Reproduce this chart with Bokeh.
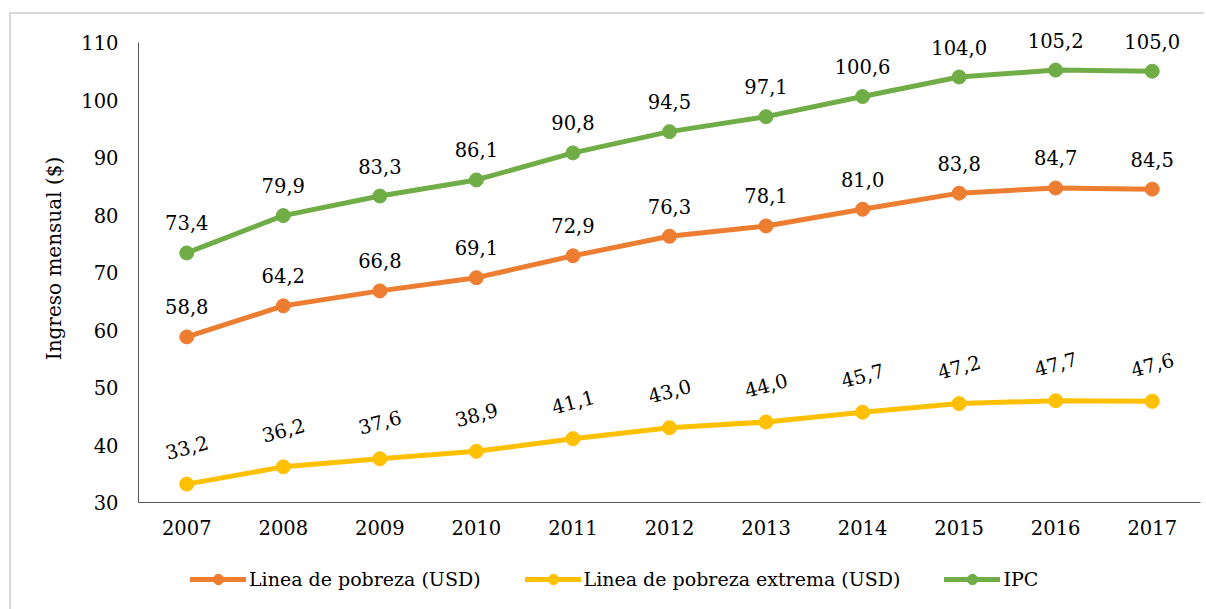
from bokeh.plotting import figure
from bokeh.layouts import column
from bokeh.models import ColumnDataSource, Range1d, FixedTicker, Legend, LegendItem
from bokeh.core.properties import value
from bokeh.embed import file_html
from bokeh.resources import INLINE
import math

years = [2007, 2008, 2009, 2010, 2011, 2012, 2013, 2014, 2015, 2016, 2017]
linea_pobreza = [58.8, 64.2, 66.8, 69.1, 72.9, 76.3, 78.1, 81.0, 83.8, 84.7, 84.5]
linea_extrema = [33.2, 36.2, 37.6, 38.9, 41.1, 43.0, 44.0, 45.7, 47.2, 47.7, 47.6]
ipc = [73.4, 79.9, 83.3, 86.1, 90.8, 94.5, 97.1, 100.6, 104.0, 105.2, 105.0]
y_ticks = [30, 40, 50, 60, 70, 80, 90, 100, 110]

series_names = ["Linea de pobreza (USD)", "Linea de pobreza extrema (USD)", "IPC"]
series_values = [linea_pobreza, linea_extrema, ipc]
series_colors = ["#ED7D31", "#FFC000", "#70AD47"]

FONT = "DejaVu Serif"
FS = "19.5px"

p = figure(width=1193, height=538, output_backend="svg", toolbar_location=None,
           x_range=Range1d(2006.5, 2017.5), y_range=Range1d(30, 114.87),
           min_border_left=127, min_border_right=4, min_border_top=0, min_border_bottom=50)
p.outline_line_color = None
p.xgrid.grid_line_color = None
p.ygrid.grid_line_color = None

for ax in (p.xaxis[0], p.yaxis[0]):
    ax.axis_line_color = "#595959"
    ax.axis_line_width = 1
    ax.major_tick_line_color = None
    ax.minor_tick_line_color = None
    ax.major_tick_out = 0
    ax.major_tick_in = 0
    ax.minor_tick_out = 0
    ax.major_label_text_font = FONT
    ax.major_label_text_font_size = FS
    ax.major_label_text_color = "black"

p.xaxis.ticker = FixedTicker(ticks=years)
p.xaxis.major_label_standoff = 17
p.yaxis.ticker = FixedTicker(ticks=y_ticks)
p.yaxis.bounds = (30, 110)
p.yaxis.major_label_standoff = 20
p.yaxis.axis_label = "Ingreso mensual ($)"
p.yaxis.axis_label_text_font = FONT
p.yaxis.axis_label_text_font_size = "20px"
p.yaxis.axis_label_text_font_style = "normal"
p.yaxis.axis_label_text_color = "black"
p.yaxis.axis_label_standoff = 12

def fmt(v):
    return f"{v:.1f}".replace(".", ",")

label_angles = [0.0, math.radians(15), 0.0]
label_offsets = [-30, -37, -30]

for vals, color, ang, yoff in zip(series_values, series_colors, label_angles, label_offsets):
    src = ColumnDataSource(dict(x=years, y=vals, label=[fmt(v) for v in vals]))
    p.line("x", "y", source=src, line_color=color, line_width=5, line_join="round", line_cap="round")
    p.scatter("x", "y", source=src, size=14, fill_color=color, line_color=color)
    p.text("x", "y", text="label", source=src, text_align="center", text_baseline="middle",
           y_offset=yoff, angle=ang, text_font=value(FONT), text_font_size=FS, text_color="black")

# legend figure (frames of a column are aligned, so its frame starts where the chart's does)
lf = figure(width=1193, height=57, output_backend="svg", toolbar_location=None,
            x_axis_type=None, y_axis_type=None, x_range=Range1d(0, 1), y_range=Range1d(0, 1),
            min_border_left=0, min_border_right=0, min_border_top=0, min_border_bottom=0)
lf.outline_line_color = None
lf.xgrid.grid_line_color = None
lf.ygrid.grid_line_color = None
items = []
nan = float("nan")
for name, color in zip(series_names, series_colors):
    empty = ColumnDataSource(dict(x=[nan], y=[nan]))
    ln = lf.line("x", "y", source=empty, line_color=color, line_width=5, line_cap="round")
    sc = lf.scatter("x", "y", source=empty, size=14, fill_color=color, line_color=color)
    items.append(LegendItem(label=name, renderers=[ln, sc]))
legend = Legend(items=items, orientation="horizontal", location=(52, 17),
                label_text_font=FONT, label_text_font_size="19px", label_text_color="black",
                glyph_width=56, glyph_height=26, label_height=26, label_standoff=3, spacing=44,
                padding=0, margin=0, border_line_color=None, background_fill_alpha=0)
lf.add_layout(legend, "center")

layout = column(p, lf, spacing=0)
layout.styles = {"margin-left": "9px", "margin-top": "12px",
                 "border-left": "2px solid #d9d9d9", "border-top": "2px solid #d9d9d9"}

open("out.html", "w").write(file_html(layout, INLINE))
